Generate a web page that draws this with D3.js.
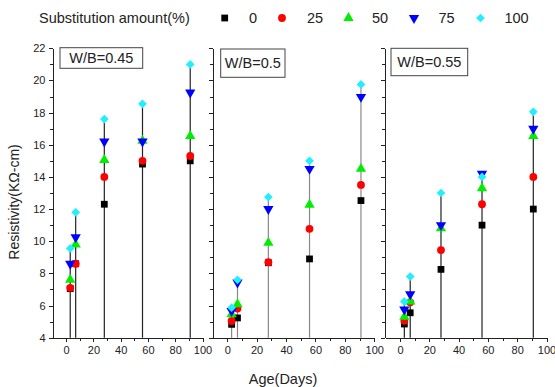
<!DOCTYPE html>
<html lang="en">
<head>
<meta charset="utf-8">
<title>Resistivity vs age</title>
<style>
body { margin: 0; background: #fff; }
svg text { font-family: "Liberation Sans", Arial, sans-serif; fill: #222; }
.axis path, .axis line { stroke: #222; shape-rendering: crispEdges; }
.axis text { font-size: 11px; }
</style>
</head>
<body>
<script src="https://d3js.org/d3.v7.min.js"></script>
<script>
// ages (days) and substitution levels
var days = [3, 7, 28, 56, 91];
var levels = ["0", "25", "50", "75", "100"];
var yTicks = [4, 6, 8, 10, 12, 14, 16, 18, 20, 22];
var xTicks = [0, 20, 40, 60, 80, 100];
var panelNames = ["W/B=0.45", "W/B=0.5", "W/B=0.55"];

// resistivity (KOhm-cm), one row per substitution level
var wb045 = [
  [7.05, 8.6, 12.3, 14.8, 15.0],
  [7.1, 8.6, 14.0, 15.0, 15.3],
  [7.6, 9.8, 15.05, 16.25, 16.55],
  [8.6, 10.25, 16.2, 16.2, 19.25],
  [9.55, 11.8, 17.6, 18.55, 21.0]
];
var wb050 = [
  [4.83, 5.23, 8.66, 8.9, 12.53],
  [5.04, 5.81, 8.7, 10.77, 13.5],
  [5.46, 6.08, 9.9, 12.27, 14.5],
  [5.67, 7.43, 12.0, 14.5, 18.98],
  [5.87, 7.6, 12.75, 15.0, 19.75]
];
var wb055 = [
  [4.85, 5.55, 8.25, 11.0, 12.0],
  [5.05, 6.2, 9.45, 12.3, 14.0],
  [5.3, 6.25, 10.8, 13.3, 16.55],
  [5.75, 6.7, 11.0, 14.2, 17.0],
  [6.25, 7.8, 13.0, 14.0, 18.05]
];

var colors = ["#000000", "#ff0000", "#00ee00", "#0000ff", "#22eeff"];
var shapes = [
  {type: d3.symbolSquare, size: 46, rot: 0},
  {type: d3.symbolCircle, size: 48, rot: 0},
  {type: d3.symbolTriangle, size: 46, rot: 0},
  {type: d3.symbolTriangle, size: 46, rot: 180},
  {type: d3.symbolSquare, size: 38, rot: 45}
];

var svg = d3.select("body").append("svg").attr("width", 555).attr("height", 387);

// panel layout
var panels = [
  {data: wb045, x0: 52.5, x1: 202.5, box: [60, 47.7, 82.7, 20.6], line: "#222", labels: true},
  {data: wb050, x0: 212.5, x1: 374.2, box: [220.7, 49, 64.3, 28.3], line: "#888", labels: false},
  {data: wb055, x0: 385.3, x1: 546.5, box: [391, 48.3, 76.7, 27.4], line: "#222", labels: false}
];

var y = d3.scaleLinear().domain([4, 22]).range([337.7, 48.3]);

panels.forEach(function(p, pi) {
  var x = d3.scaleLinear().domain([-10, 100]).range([p.x0, p.x1]);
  var g = svg.append("g");

  // drop lines from the highest point of each age
  g.selectAll(".drop")
    .data(days)
    .enter()
    .append("line")
    .attr("x1", function(d) { return x(d); })
    .attr("x2", function(d) { return x(d); })
    .attr("y1", y(4))
    .attr("y2", function(d, i) {
      return y(d3.max(p.data, function(s) { return s[i]; }));
    })
    .attr("stroke", p.line)
    .attr("stroke-width", 1.2);

  // x axis
  g.append("g").attr("class", "axis")
    .attr("transform", "translate(0," + y(4) + ")")
    .call(d3.axisBottom(x).tickValues([10, 30, 50, 70, 90]).tickSize(3).tickFormat(""))
    .select(".domain").remove();
  g.append("g").attr("class", "axis")
    .attr("transform", "translate(0," + y(4) + ")")
    .call(d3.axisBottom(x).tickValues(xTicks).tickSizeInner(4).tickSizeOuter(0).tickPadding(5));

  // y axis
  g.append("g").attr("class", "axis")
    .attr("transform", "translate(" + p.x0 + ",0)")
    .call(d3.axisLeft(y).tickValues(d3.range(5, 22, 2)).tickSize(3).tickFormat(""))
    .select(".domain").remove();
  var ya = d3.axisLeft(y).tickValues(yTicks).tickSizeInner(4).tickSizeOuter(0).tickPadding(3);
  if (!p.labels) ya.tickFormat("");
  g.append("g").attr("class", "axis")
    .attr("transform", "translate(" + p.x0 + ",0)")
    .call(ya);

  // label box
  g.append("rect")
    .attr("x", p.box[0]).attr("y", p.box[1])
    .attr("width", p.box[2]).attr("height", p.box[3])
    .attr("fill", "#fff").attr("stroke", "#444").attr("stroke-width", 1);
  g.append("text")
    .attr("x", p.box[0] + p.box[2] / 2)
    .attr("y", p.box[1] + p.box[3] / 2 + 5)
    .attr("text-anchor", "middle")
    .style("font-size", "14.5px")
    .text(panelNames[pi]);

  // markers
  p.data.forEach(function(series, si) {
    var sh = shapes[si];
    g.selectAll(".m" + si)
      .data(series)
      .enter()
      .append("path")
      .attr("d", d3.symbol().type(sh.type).size(sh.size))
      .attr("transform", function(d, i) {
        return "translate(" + x(days[i]) + "," + y(d) + ") rotate(" + sh.rot + ")";
      })
      .attr("fill", colors[si]);
  });
});

// axis titles
svg.append("text")
  .attr("transform", "translate(19,202) rotate(-90)")
  .attr("text-anchor", "middle")
  .style("font-size", "14px")
  .text("Resistivity(KΩ-cm)");
svg.append("text")
  .attr("x", 283).attr("y", 384)
  .attr("text-anchor", "middle")
  .style("font-size", "14.5px")
  .text("Age(Days)");

// legend
svg.append("text")
  .attr("x", 39).attr("y", 23)
  .style("font-size", "14.5px")
  .text("Substitution amount(%)");
var legSym = [224.7, 282, 348.5, 414, 480.5];
var legTxt = [253, 315, 380, 446.6, 516.6];
levels.forEach(function(l, i) {
  var sh = shapes[i];
  svg.append("path")
    .attr("d", d3.symbol().type(sh.type).size(sh.size))
    .attr("transform", "translate(" + legSym[i] + ",18) rotate(" + sh.rot + ")")
    .attr("fill", colors[i]);
  svg.append("text")
    .attr("x", legTxt[i]).attr("y", 23)
    .attr("text-anchor", "middle")
    .style("font-size", "14.5px")
    .text(l);
});
</script>
</body>
</html>
